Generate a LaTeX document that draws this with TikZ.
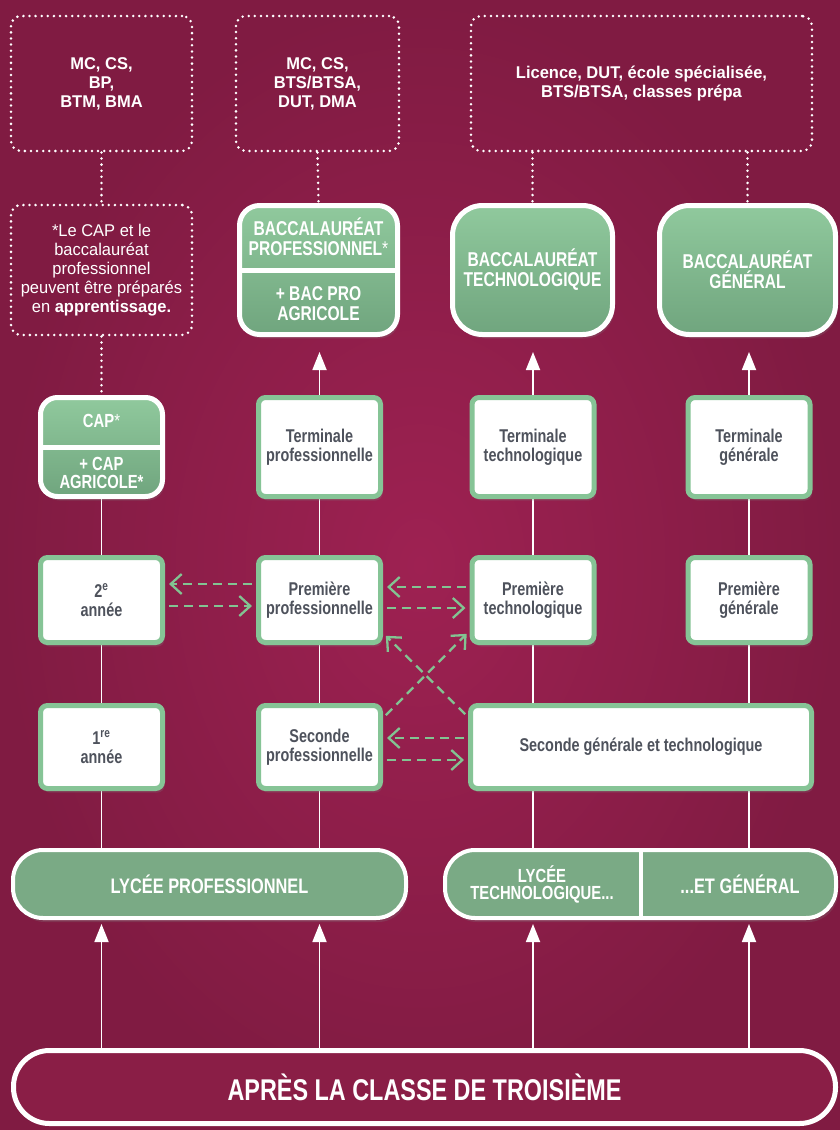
\documentclass[tikz,border=0pt]{standalone}
\usepackage{fontspec}
\setmainfont{Liberation Sans}
\newfontfamily\condfont{Liberation Sans}[FakeStretch=0.78]
\newfontfamily\semifont{Liberation Sans}[FakeStretch=0.97]
\usepackage{tikz}
\usetikzlibrary{arrows.meta, calc, shadows}

\definecolor{bgmid}{RGB}{158,33,82}
\definecolor{bgout}{RGB}{128,27,66}
\definecolor{gborder}{RGB}{134,196,150}
\definecolor{glight}{RGB}{144,201,157}
\definecolor{gdark}{RGB}{112,165,126}
\definecolor{gflat}{RGB}{122,170,133}
\definecolor{txtgray}{RGB}{78,82,92}
\definecolor{dashgreen}{RGB}{130,196,146}
\definecolor{bottomfill}{RGB}{138,30,70}

\pgfdeclarelayer{back}
\pgfdeclarelayer{links}
\pgfsetlayers{back,links,main}

\begin{document}
\begin{tikzpicture}[x=1pt, y=-1pt,
        dotbox/.style={draw=white, line width=2.8pt, dash pattern=on 0pt off 6.1pt, line cap=round,
            rounded corners=10pt, minimum height=135pt, align=center, text=white, inner sep=0pt,
            font=\semifont\bfseries\fontsize{17}{19}\selectfont},
        dotline/.style={white, line width=2.8pt, dash pattern=on 0pt off 6.1pt, line cap=round},
        yearbox/.style={draw=gborder, fill=white, line width=5pt, rounded corners=7pt,
            minimum width=122pt, align=center, text=txtgray, inner sep=0pt,
            font=\condfont\bfseries\fontsize{18.5}{19}\selectfont,
            drop shadow={opacity=0.25, shadow xshift=2pt, shadow yshift=-4pt}},
        diplbox/.style={draw=white, line width=5pt, top color=glight, bottom color=gdark,
            minimum height=129pt, align=center, text=white, inner sep=0pt,
            font=\condfont\bfseries\fontsize{20}{20}\selectfont,
            drop shadow={opacity=0.25, shadow xshift=2pt, shadow yshift=-4pt}},
        dipltext/.style={align=center, text=white, inner sep=0pt},
        lyceebox/.style={draw=white, line width=4pt, fill=gflat, rounded corners=30pt,
            minimum height=68pt, align=center, text=white, inner sep=0pt,
            font=\condfont\bfseries\fontsize{21}{20}\selectfont,
            drop shadow={opacity=0.25, shadow xshift=2pt, shadow yshift=-4pt}},
        link/.style={white, line width=1.8pt},
        uparrow/.style={link, -{Triangle[length=18pt, width=14pt]}},
        passage/.style={dashgreen, line width=2.3pt, dash pattern=on 9pt off 6pt,
            -{Straight Barb[length=11pt, width=20pt]}, shorten <=4pt, shorten >=4pt}
    ]
    \useasboundingbox (0,0) rectangle (840,1130);
    \begin{pgfonlayer}{back}
        \shade[inner color=bgmid, outer color=bgout] (0,0) rectangle (840,1130);
    \end{pgfonlayer}

    % poursuites d'etudes
    \node[dotbox, minimum width=181pt] (mcbp) at (101.5,83.5) {MC, CS,\\BP,\\BTM, BMA};
    \node[dotbox, minimum width=163pt] (mcbts) at (317.5,83.5) {MC, CS,\\BTS/BTSA,\\DUT, DMA};
    \node[dotbox, minimum width=341pt] (licence) at (641.5,83.5) {Licence, DUT, école spécialisée,\\BTS/BTSA, classes prépa};
    \node[dotbox, minimum width=181pt, minimum height=130pt, font=\semifont\fontsize{17}{19}\selectfont] (apprent) at (101.5,270)
        {*Le CAP et le\\baccalauréat\\professionnel\\peuvent être préparés\\en \textbf{apprentissage.}};

    % diplomes
    \node[diplbox, minimum width=158pt, rounded corners=20pt] (bacpro) at (318.5,270) {};
    \draw[white, line width=5pt] (bacpro.west) -- (bacpro.east);
    \node[dipltext, font=\condfont\bfseries\fontsize{20}{20}\selectfont] (bacprotitre) at ($(bacpro.center)+(0,-33.5)$)
        {BACCALAURÉAT\\PROFESSIONNEL\textmd{*}};
    \node[dipltext, font=\condfont\bfseries\fontsize{20}{20}\selectfont] (bacproagri) at ($(bacpro.center)+(0,33.5)$)
        {+ BAC PRO\\AGRICOLE};
    \node[diplbox, minimum width=160pt, rounded corners=30pt] (bactech) at (532.5,270) {BACCALAURÉAT\\TECHNOLOGIQUE};
    \node[diplbox, minimum width=176pt, rounded corners=30pt] (bacgen) at (747.5,270) {BACCALAURÉAT\\GÉNÉRAL};

    \node[diplbox, minimum width=122pt, minimum height=99pt, rounded corners=17pt] (cap) at (101.5,447) {};
    \draw[white, line width=5pt] (cap.west) -- (cap.east);
    \node[dipltext, font=\condfont\bfseries\fontsize{19}{18}\selectfont] (captitre) at ($(cap.center)+(0,-26)$) {CAP\textmd{*}};
    \node[dipltext, font=\condfont\bfseries\fontsize{19}{18}\selectfont] (capagri) at ($(cap.center)+(0,26)$) {+ CAP\\AGRICOLE*};

    % classes
    \node[yearbox, minimum height=99pt] (tpro) at (319.5,447) {Terminale\\professionnelle};
    \node[yearbox, minimum height=99pt] (ttech) at (533,447) {Terminale\\technologique};
    \node[yearbox, minimum height=99pt] (tgen) at (749,447) {Terminale\\générale};

    \node[yearbox, minimum height=85pt] (an2) at (101.5,600) {2\textsuperscript{e}\\année};
    \node[yearbox, minimum height=85pt] (ppro) at (319.5,600) {Première\\professionnelle};
    \node[yearbox, minimum height=85pt] (ptech) at (533,600) {Première\\technologique};
    \node[yearbox, minimum height=85pt] (pgen) at (749,600) {Première\\générale};

    \node[yearbox, minimum height=83pt] (an1) at (101.5,747) {1\textsuperscript{re}\\année};
    \node[yearbox, minimum height=83pt] (spro) at (319.5,747) {Seconde\\professionnelle};
    \node[yearbox, minimum height=83pt, minimum width=341pt] (sgt) at (641,747) {Seconde générale et technologique};

    % lycees
    \node[lyceebox, minimum width=393pt] (lpro) at (209.5,884) {LYCÉE PROFESSIONNEL};
    \node[lyceebox, minimum width=391pt] (ltg) at (640.5,884) {};
    \draw[white, line width=4pt] (ltg.north) -- (ltg.south);
    \node[dipltext, font=\condfont\bfseries\fontsize{19}{17}\selectfont] (ltechno) at (542,884) {LYCÉE\\TECHNOLOGIQUE...};
    \node[dipltext, font=\condfont\bfseries\fontsize{21}{20}\selectfont] (lgen) at (740,884) {...ET GÉNÉRAL};

    \node[draw=white, line width=5pt, fill=bottomfill, rounded corners=36pt, minimum width=822pt, minimum height=73pt,
        text=white, inner sep=0pt, font=\condfont\bfseries\fontsize{30}{30}\selectfont] (apres) at (424.5,1087)
        {APRÈS LA CLASSE DE TROISIÈME};

    \begin{pgfonlayer}{links}
        \draw[dotline] (mcbp.south) -- (apprent.north);
        \draw[dotline] (apprent.south) -- (cap.north);
        \draw[dotline] (mcbts.south) -- (bacpro.north);
        \draw[dotline] (bactech.north |- licence.south) -- (bactech.north);
        \draw[dotline] (bacgen.north |- licence.south) -- (bacgen.north);

        \draw[link] (cap.south) -- (an2.north);
        \draw[link] (an2.south) -- (an1.north);
        \draw[link] (ppro.north) -- (tpro.south);
        \draw[link] (spro.north) -- (ppro.south);
        \draw[link] (ptech.north) -- (ttech.south);
        \draw[link] (sgt.north -| ptech) -- (ptech.south);
        \draw[link] (pgen.north) -- (tgen.south);
        \draw[link] (sgt.north -| pgen) -- (pgen.south);

        \draw[uparrow, shorten >=15pt] (tpro.north) -- (tpro.north |- bacpro.south);
        \draw[uparrow, shorten >=15pt] (ttech.north) -- (ttech.north |- bactech.south);
        \draw[uparrow, shorten >=15pt] (tgen.north) -- (tgen.north |- bacgen.south);

        \draw[link] (lpro.north -| an1) -- (an1.south);
        \draw[link] (lpro.north -| spro) -- (spro.south);
        \draw[link] (ltg.north -| ptech) -- (sgt.south -| ptech);
        \draw[link] (ltg.north -| pgen) -- (sgt.south -| pgen);

        \foreach \col/\lyc in {an1/lpro, spro/lpro, ptech/ltg, pgen/ltg}
            \draw[uparrow, shorten >=4pt] (apres.north -| \col) -- (\lyc.south -| \col);
    \end{pgfonlayer}

    % passerelles
    \draw[passage] ([yshift=16pt]ppro.west) -- ([yshift=16pt]an2.east);
    \draw[passage] ([yshift=-6pt]an2.east) -- ([yshift=-6pt]ppro.west);
    \draw[passage] ([yshift=13pt]ptech.west) -- ([yshift=13pt]ppro.east);
    \draw[passage] ([yshift=-8pt]ppro.east) -- ([yshift=-8pt]ptech.west);
    \draw[passage] ([yshift=9pt]sgt.west) -- ([yshift=9pt]spro.east);
    \draw[passage] ([yshift=-13pt]spro.east) -- ([yshift=-13pt]sgt.west);
    \draw[passage] ([yshift=-14pt]sgt.north west) -- ([yshift=12pt]ppro.south east);
    \draw[passage] ([yshift=-15pt]spro.north east) -- ([yshift=14pt]ptech.south west);
\end{tikzpicture}
\end{document}
